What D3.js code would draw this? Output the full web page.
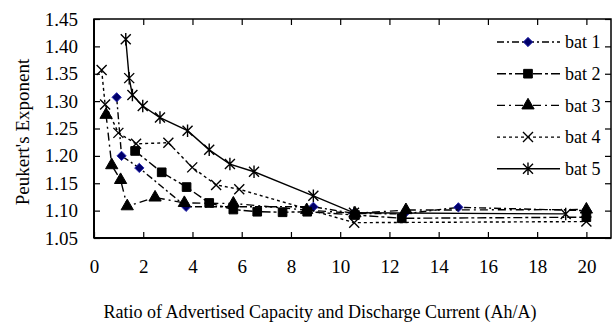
<!DOCTYPE html>
<html>
<head>
<meta charset="utf-8">
<script src="https://cdn.jsdelivr.net/npm/d3@7"></script>
<style>
  body { margin: 0; background: #fff; }
</style>
</head>
<body>
<div id="chart"></div>
<script>
// values: [ratio, exponent]
const bat1 = [[0.92, 1.307], [1.12, 1.200], [1.84, 1.178], [3.74, 1.107], [8.91, 1.107], [10.55, 1.095], [12.6, 1.094], [14.8, 1.106], [20.0, 1.100]];
const bat2 = [[1.67, 1.209], [2.75, 1.170], [3.76, 1.143], [4.68, 1.114], [5.66, 1.102], [6.63, 1.098], [7.66, 1.097], [8.66, 1.098], [10.6, 1.092], [12.5, 1.086], [20.0, 1.088]];
const bat3 = [[0.49, 1.275], [0.72, 1.183], [1.08, 1.156], [1.35, 1.108], [2.48, 1.124], [3.67, 1.114], [5.66, 1.113], [8.64, 1.101], [10.6, 1.095], [12.67, 1.101], [20.0, 1.102]];
const bat4 = [[0.31, 1.357], [0.45, 1.294], [0.99, 1.242], [1.71, 1.222], [3.02, 1.224], [3.99, 1.179], [4.96, 1.147], [5.9, 1.139], [10.57, 1.078], [20.0, 1.080]];
const bat5 = [[1.29, 1.413], [1.43, 1.342], [1.56, 1.311], [1.98, 1.291], [2.68, 1.270], [3.8, 1.246], [4.68, 1.211], [5.52, 1.185], [6.5, 1.171], [8.91, 1.127], [10.56, 1.096], [19.16, 1.094]];

const seriesNames = ["bat 1", "bat 2", "bat 3", "bat 4", "bat 5"];
const xTicks = [0, 2, 4, 6, 8, 10, 12, 14, 16, 18, 20];
const yTicks = [1.05, 1.10, 1.15, 1.20, 1.25, 1.30, 1.35, 1.40, 1.45];

const FONT = "'Liberation Serif', 'Times New Roman', serif";

const W = 616, H = 322;
const margin = {top: 19, right: 5, bottom: 84, left: 94};
const width = W - margin.left - margin.right;
const height = H - margin.top - margin.bottom;

const svg = d3.select("#chart").append("svg")
    .attr("width", W).attr("height", H)
    .style("font-family", FONT);
const g = svg.append("g").attr("transform", `translate(${margin.left},${margin.top})`);

const x = d3.scaleLinear().domain([0, 21]).range([0, width]);
const y = d3.scaleLinear().domain([1.05, 1.45]).range([height, 0]);

// frame
g.append("rect").attr("width", width).attr("height", height)
    .attr("fill", "none").attr("stroke", "#000").attr("stroke-width", 1.5);

// axes, ticks pointing inward
const xAxisBottom = g.append("g").attr("transform", `translate(0,${height})`)
    .call(d3.axisBottom(x).tickValues(xTicks).tickSize(-6).tickPadding(22).tickFormat(d3.format("d")));
const xAxisTop = g.append("g")
    .call(d3.axisTop(x).tickValues(xTicks.slice(1)).tickSize(-6).tickFormat(""));
const yAxisLeft = g.append("g")
    .call(d3.axisLeft(y).tickValues(yTicks).tickSize(-6).tickPadding(16).tickFormat(d3.format(".2f")));
const yAxisRight = g.append("g").attr("transform", `translate(${width},0)`)
    .call(d3.axisRight(y).tickValues(yTicks).tickSize(-6).tickFormat(""));

[xAxisBottom, xAxisTop, yAxisLeft, yAxisRight].forEach(a => {
  a.attr("font-family", null).attr("font-size", null);
  a.select(".domain").remove();
  a.selectAll("line").attr("stroke", "#000").attr("stroke-width", 1.2);
  a.selectAll("text").attr("fill", "#000")
      .style("font-family", FONT).style("font-size", "19px");
});
g.append("line").attr("x1", 0).attr("x2", width).attr("y1", height).attr("y2", height)
    .attr("stroke", "#000").attr("stroke-width", 2);
g.append("line").attr("x1", 0).attr("x2", 0).attr("y1", 0).attr("y2", height)
    .attr("stroke", "#000").attr("stroke-width", 2);

// marker shapes
const asterisk = {
  draw(ctx, size) {
    const r = Math.sqrt(size) / 2;
    ctx.moveTo(-r, -r); ctx.lineTo(r, r);
    ctx.moveTo(-r, r); ctx.lineTo(r, -r);
    ctx.moveTo(0, -r * 1.25); ctx.lineTo(0, r * 1.25);
  }
};
const xMark = {
  draw(ctx, size) {
    const r = Math.sqrt(size) / 2;
    ctx.moveTo(-r, -r); ctx.lineTo(r, r);
    ctx.moveTo(-r, r); ctx.lineTo(r, -r);
  }
};

const styles = [
  {data: bat1, dash: "7,3,2,3", sym: d3.symbolDiamond2, size: 55, fill: "#00006a", stroke: "#2a2ab0", sw: 1},
  {data: bat2, dash: "9,3,3,3", sym: d3.symbolSquare, size: 75, fill: "#000", stroke: "#000", sw: 1},
  {data: bat3, dash: "8,4,2,4", sym: d3.symbolTriangle, size: 65, fill: "#000", stroke: "#000", sw: 1},
  {data: bat4, dash: "3,3", sym: xMark, size: 100, fill: "none", stroke: "#000", sw: 1.4},
  {data: bat5, dash: null, sym: asterisk, size: 100, fill: "none", stroke: "#000", sw: 1.4}
];

const line = d3.line().x(d => x(d[0])).y(d => y(d[1]));

styles.forEach(s => {
  g.append("path").datum(s.data)
      .attr("d", line)
      .attr("fill", "none").attr("stroke", "#000").attr("stroke-width", 1.4)
      .attr("stroke-dasharray", s.dash);
  g.append("g").selectAll("path").data(s.data).join("path")
      .attr("transform", d => `translate(${x(d[0])},${y(d[1])})`)
      .attr("d", d3.symbol().type(s.sym).size(s.size))
      .attr("fill", s.fill).attr("stroke", s.stroke).attr("stroke-width", s.sw);
});

// legend
const legend = svg.append("g").attr("transform", "translate(497,42)");
styles.forEach((s, i) => {
  const row = legend.append("g").attr("transform", `translate(0,${i * 31.7})`);
  row.append("line").attr("x1", 0).attr("x2", 63).attr("y1", 0).attr("y2", 0)
      .attr("stroke", "#000").attr("stroke-width", 1.4).attr("stroke-dasharray", s.dash);
  row.append("path").attr("transform", "translate(31,0)")
      .attr("d", d3.symbol().type(s.sym).size(s.size))
      .attr("fill", s.fill).attr("stroke", s.stroke).attr("stroke-width", s.sw);
  row.append("text").attr("x", 68).attr("y", 0).attr("dy", "0.35em")
      .style("font-family", FONT).style("font-size", "18px").text(seriesNames[i]);
});

// axis titles
svg.append("text").attr("x", 320).attr("y", 318).attr("text-anchor", "middle")
    .style("font-family", FONT).style("font-size", "18px")
    .text("Ratio of Advertised Capacity and Discharge Current (Ah/A)");
svg.append("text").attr("transform", "translate(29,132) rotate(-90)").attr("text-anchor", "middle")
    .style("font-family", FONT).style("font-size", "19px").text("Peukert's Exponent");
</script>
</body>
</html>
